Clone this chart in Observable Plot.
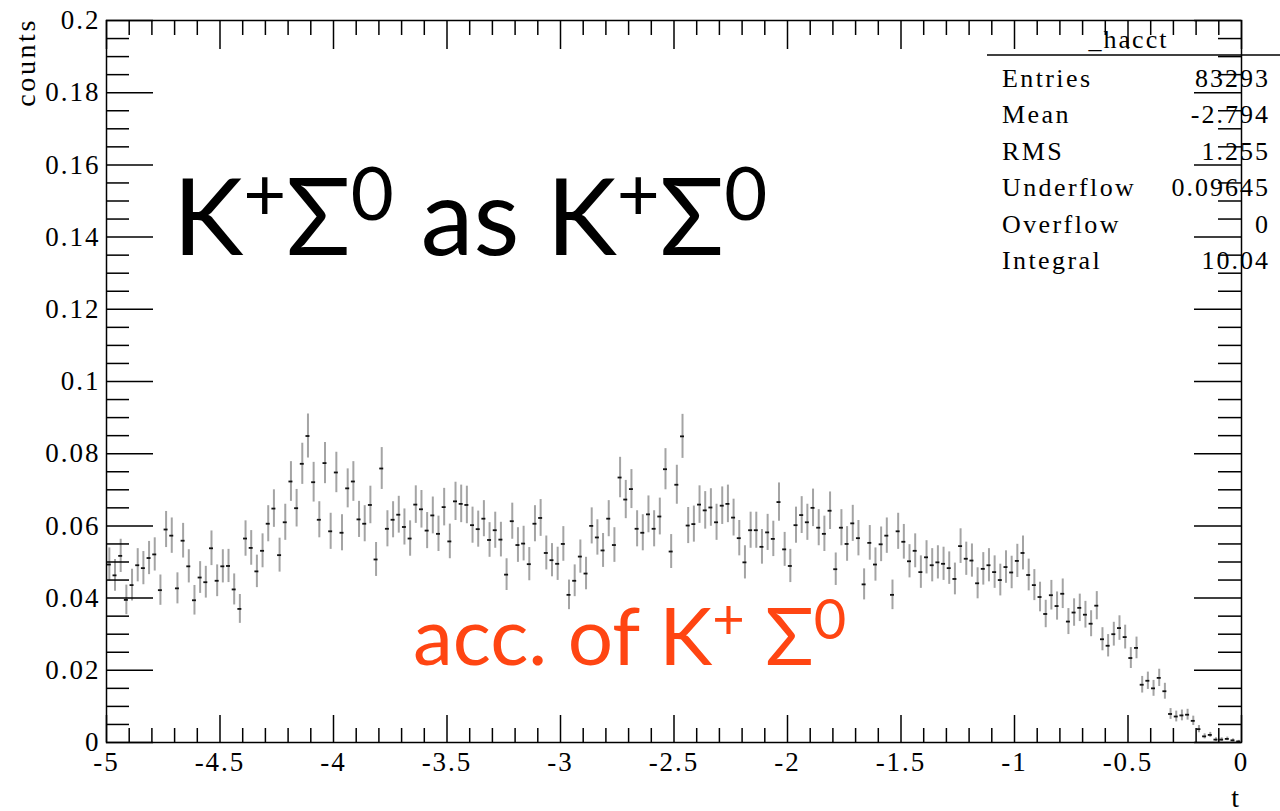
<!DOCTYPE html>
<html>
<head>
<meta charset="utf-8">
<script src="https://cdn.jsdelivr.net/npm/d3@7"></script>
<script src="https://cdn.jsdelivr.net/npm/@observablehq/plot@0.6"></script>
<style>
  html, body { margin: 0; padding: 0; background: #fff; }
  #chart svg { display: block; }
</style>
</head>
<body>
<div id="chart"></div>
<script>
// Histogram _hacct: acceptance-weighted counts in t, 200 bins from -5 to 0
const tLow = -5, tHigh = 0, binWidth = 0.025;
const yTop = 0.2;

const counts = [
  0.0493, 0.0463, 0.0517, 0.0395, 0.0436, 0.0491, 0.0483, 0.0511, 0.0521, 0.0422,
  0.0590, 0.0573, 0.0427, 0.0559, 0.0488, 0.0394, 0.0457, 0.0444, 0.0538, 0.0448,
  0.0488, 0.0489, 0.0424, 0.0370, 0.0565, 0.0539, 0.0474, 0.0531, 0.0606, 0.0648,
  0.0519, 0.0610, 0.0723, 0.0649, 0.0772, 0.0849, 0.0721, 0.0617, 0.0774, 0.0585,
  0.0748, 0.0581, 0.0704, 0.0723, 0.0618, 0.0606, 0.0658, 0.0507, 0.0759, 0.0592,
  0.0617, 0.0631, 0.0597, 0.0565, 0.0659, 0.0646, 0.0587, 0.0629, 0.0578, 0.0652,
  0.0557, 0.0668, 0.0661, 0.0658, 0.0602, 0.0591, 0.0620, 0.0561, 0.0588, 0.0562,
  0.0465, 0.0613, 0.0547, 0.0551, 0.0494, 0.0606, 0.0622, 0.0525, 0.0505, 0.0495,
  0.0550, 0.0409, 0.0448, 0.0515, 0.0468, 0.0600, 0.0568, 0.0532, 0.0620, 0.0547,
  0.0734, 0.0673, 0.0702, 0.0592, 0.0581, 0.0632, 0.0592, 0.0626, 0.0757, 0.0529,
  0.0714, 0.0848, 0.0601, 0.0605, 0.0659, 0.0643, 0.0651, 0.0610, 0.0656, 0.0661,
  0.0623, 0.0566, 0.0499, 0.0588, 0.0588, 0.0542, 0.0582, 0.0564, 0.0666, 0.0535,
  0.0489, 0.0602, 0.0630, 0.0610, 0.0650, 0.0595, 0.0578, 0.0642, 0.0480, 0.0595,
  0.0550, 0.0607, 0.0566, 0.0438, 0.0553, 0.0493, 0.0549, 0.0573, 0.0409, 0.0585,
  0.0556, 0.0502, 0.0531, 0.0472, 0.0513, 0.0491, 0.0499, 0.0495, 0.0483, 0.0453,
  0.0544, 0.0509, 0.0504, 0.0441, 0.0481, 0.0491, 0.0472, 0.0450, 0.0486, 0.0471,
  0.0503, 0.0525, 0.0464, 0.0436, 0.0403, 0.0356, 0.0408, 0.0378, 0.0412, 0.0335,
  0.0360, 0.0373, 0.0354, 0.0329, 0.0379, 0.0286, 0.0268, 0.0300, 0.0317, 0.0292,
  0.0234, 0.0262, 0.0160, 0.0171, 0.0150, 0.0179, 0.0142, 0.0079, 0.0072, 0.0075,
  0.0077, 0.0060, 0.0037, 0.0017, 0.0021, 0.0008, 0.0008, 0.0010, 0.0006, 0.0003
];

const errors = [
  0.0046, 0.0044, 0.0046, 0.0041, 0.0044, 0.0046, 0.0046, 0.0046, 0.0046, 0.0042,
  0.0050, 0.0049, 0.0043, 0.0048, 0.0046, 0.0041, 0.0044, 0.0044, 0.0048, 0.0044,
  0.0046, 0.0046, 0.0043, 0.0040, 0.0049, 0.0048, 0.0045, 0.0047, 0.0050, 0.0052,
  0.0047, 0.0050, 0.0055, 0.0052, 0.0057, 0.0061, 0.0055, 0.0050, 0.0057, 0.0050,
  0.0056, 0.0050, 0.0054, 0.0055, 0.0050, 0.0050, 0.0052, 0.0047, 0.0058, 0.0050,
  0.0050, 0.0051, 0.0050, 0.0049, 0.0052, 0.0052, 0.0050, 0.0051, 0.0049, 0.0052,
  0.0048, 0.0053, 0.0052, 0.0052, 0.0050, 0.0050, 0.0050, 0.0048, 0.0050, 0.0048,
  0.0044, 0.0050, 0.0048, 0.0048, 0.0046, 0.0050, 0.0051, 0.0047, 0.0046, 0.0046,
  0.0048, 0.0041, 0.0044, 0.0046, 0.0045, 0.0050, 0.0049, 0.0047, 0.0050, 0.0048,
  0.0056, 0.0053, 0.0054, 0.0050, 0.0050, 0.0051, 0.0050, 0.0051, 0.0057, 0.0047,
  0.0054, 0.0061, 0.0050, 0.0050, 0.0052, 0.0052, 0.0052, 0.0050, 0.0052, 0.0052,
  0.0051, 0.0049, 0.0046, 0.0050, 0.0050, 0.0048, 0.0050, 0.0049, 0.0053, 0.0047,
  0.0046, 0.0050, 0.0051, 0.0050, 0.0052, 0.0050, 0.0049, 0.0052, 0.0045, 0.0050,
  0.0048, 0.0050, 0.0049, 0.0043, 0.0048, 0.0046, 0.0048, 0.0049, 0.0041, 0.0050,
  0.0048, 0.0046, 0.0047, 0.0045, 0.0046, 0.0046, 0.0046, 0.0046, 0.0045, 0.0044,
  0.0048, 0.0046, 0.0046, 0.0043, 0.0045, 0.0046, 0.0045, 0.0044, 0.0045, 0.0045,
  0.0046, 0.0047, 0.0044, 0.0043, 0.0041, 0.0038, 0.0041, 0.0039, 0.0041, 0.0036,
  0.0038, 0.0038, 0.0037, 0.0036, 0.0039, 0.0032, 0.0031, 0.0033, 0.0034, 0.0033,
  0.0029, 0.0030, 0.0023, 0.0024, 0.0022, 0.0024, 0.0022, 0.0015, 0.0015, 0.0015,
  0.0015, 0.0013, 0.0010, 0.0007, 0.0007, 0.0005, 0.0005, 0.0005, 0.0004, 0.0003
];

// Axis tick labels
const xTicks = [-5, -4.5, -4, -3.5, -3, -2.5, -2, -1.5, -1, -0.5, 0];
const yTicks = [0, 0.02, 0.04, 0.06, 0.08, 0.1, 0.12, 0.14, 0.16, 0.18, 0.2];
const xTitle = "t";
const yTitle = "counts";

// Statistics box
const statsTitle = "_hacct";
const statsLabels = ["Entries", "Mean", "RMS", "Underflow", "Overflow", "Integral"];
const statsValues = ["83293", "-2.794", "1.255", "0.09645", "0", "10.04"];

// Overlaid slide annotations (superscripts flagged)
const headline = [
  {text: "K"}, {text: "+", sup: true}, {text: "Σ"}, {text: "0", sup: true},
  {text: " as K"}, {text: "+", sup: true}, {text: "Σ"}, {text: "0", sup: true}
];
const subline = [
  {text: "acc. of K"}, {text: "+", sup: true}, {text: " Σ"}, {text: "0", sup: true}
];

// ---- layout ----
const W = 1280, H = 811;
const margin = {left: 106, right: 39, top: 20, bottom: 69};
const frameW = W - margin.left - margin.right;
const frameH = H - margin.top - margin.bottom;
const perPxX = (tHigh - tLow) / frameW;   // data units per pixel
const perPxY = yTop / frameH;

const hist = counts.map((v, i) => ({
  t: tLow + (i + 0.5) * binWidth,
  v,
  e: errors[i]
}));

const xMinor = d3.range(0, 51).map(i => +(tLow + i * 0.1).toFixed(2)).filter(t => !xTicks.includes(t));
const yMinor = d3.range(0, 41).map(i => +(i * 0.005).toFixed(3)).filter(v => !yTicks.includes(v));

const serif = "'Liberation Serif', 'Times New Roman', serif";

const chart = Plot.plot({
  width: W,
  height: H,
  marginLeft: margin.left,
  marginRight: margin.right,
  marginTop: margin.top,
  marginBottom: margin.bottom,
  x: {domain: [tLow, tHigh]},
  y: {domain: [0, yTop]},
  style: {fontFamily: serif, fontSize: "27px", color: "black", background: "white", overflow: "visible"},
  marks: [
    // error bars
    Plot.ruleX(hist, {x: "t", y1: d => d.v - d.e, y2: d => d.v + d.e, stroke: "#a4a4a4", strokeWidth: 2}),
    // bin content markers
    Plot.ruleY(hist, {y: "v", x1: d => d.t - binWidth * 0.35, x2: d => d.t + binWidth * 0.35, stroke: "#111", strokeWidth: 1.8}),
    // inward ticks: left and right
    Plot.ruleY(yTicks, {y: d => d, x1: tLow, x2: tLow + 47 * perPxX, stroke: "black", strokeWidth: 1.5}),
    Plot.ruleY(yMinor, {y: d => d, x1: tLow, x2: tLow + 23 * perPxX, stroke: "black", strokeWidth: 1.5}),
    Plot.ruleY(yTicks, {y: d => d, x1: tHigh - 47 * perPxX, x2: tHigh, stroke: "black", strokeWidth: 1.5}),
    Plot.ruleY(yMinor, {y: d => d, x1: tHigh - 23 * perPxX, x2: tHigh, stroke: "black", strokeWidth: 1.5}),
    // inward ticks: bottom and top
    Plot.ruleX(xTicks, {x: d => d, y1: 0, y2: 27 * perPxY, stroke: "black", strokeWidth: 1.5}),
    Plot.ruleX(xMinor, {x: d => d, y1: 0, y2: 14 * perPxY, stroke: "black", strokeWidth: 1.5}),
    Plot.ruleX(xTicks, {x: d => d, y1: yTop - 29 * perPxY, y2: yTop, stroke: "black", strokeWidth: 1.5}),
    Plot.ruleX(xMinor, {x: d => d, y1: yTop - 15 * perPxY, y2: yTop, stroke: "black", strokeWidth: 1.5}),
    Plot.frame({stroke: "black", strokeWidth: 1.5}),
    // tick labels
    Plot.axisY({ticks: yTicks, tickSize: 0, tickPadding: 6, tickFormat: d => String(d), label: null, fontSize: 27}),
    Plot.axisX({ticks: xTicks, tickSize: 0, tickPadding: 9, tickFormat: d => String(d), label: null, fontSize: 27})
  ]
});

document.getElementById("chart").append(chart);

const svg = d3.select(chart);
svg.style("letter-spacing", "2px");
const xs = chart.scale("x"), ys = chart.scale("y");

// axis titles
svg.append("text")
  .attr("transform", `translate(${margin.left - 71},${margin.top - 2}) rotate(-90)`)
  .attr("text-anchor", "end")
  .attr("font-family", serif).attr("font-size", 28)
  .style("letter-spacing", "2.6px")
  .text(yTitle);
svg.append("text")
  .attr("x", W - margin.right).attr("y", H - 4)
  .attr("text-anchor", "end")
  .attr("font-family", serif).attr("font-size", 28)
  .text(xTitle);

// statistics box
const box = svg.append("g").attr("font-family", serif).attr("font-size", 26).attr("text-anchor", "start");
const boxLeft = 987, boxRight = W;
box.append("line")
  .attr("x1", boxLeft).attr("x2", boxRight)
  .attr("y1", margin.top + 35).attr("y2", margin.top + 35)
  .attr("stroke", "black").attr("stroke-width", 1.5);
box.append("text")
  .attr("x", (boxLeft + boxRight) / 2 - 5).attr("y", margin.top + 28)
  .attr("text-anchor", "middle").text(statsTitle);
statsLabels.forEach((lab, i) => {
  const yb = margin.top + 67 + i * 36.4;
  box.append("text").attr("x", boxLeft + 15).attr("y", yb).attr("text-anchor", "start")
    .style("letter-spacing", "2.4px").text(lab);
  box.append("text").attr("x", W - 10).attr("y", yb).attr("text-anchor", "end").text(statsValues[i]);
});

// slide annotations with raised superscripts
function richText(parts, t, v, size, fill) {
  const txt = svg.append("text")
    .attr("x", xs.apply(t)).attr("y", ys.apply(v))
    .attr("text-anchor", "start")
    .attr("font-family", "Lato, 'Open Sans', sans-serif")
    .attr("font-size", size)
    .attr("fill", fill)
    .style("letter-spacing", "0px")
    .style("white-space", "pre");
  let shift = 0;
  for (const p of parts) {
    const target = p.sup ? size * 0.33 : 0;
    txt.append("tspan")
      .attr("dy", -(target - shift))
      .attr("font-size", p.sup ? size * 0.7 : size)
      .text(p.text);
    shift = target;
  }
}
richText(headline, -4.705, 0.1349, 106, "#000");
richText(subline, -3.648, 0.0213, 80, "#ff4512");
</script>
</body>
</html>
